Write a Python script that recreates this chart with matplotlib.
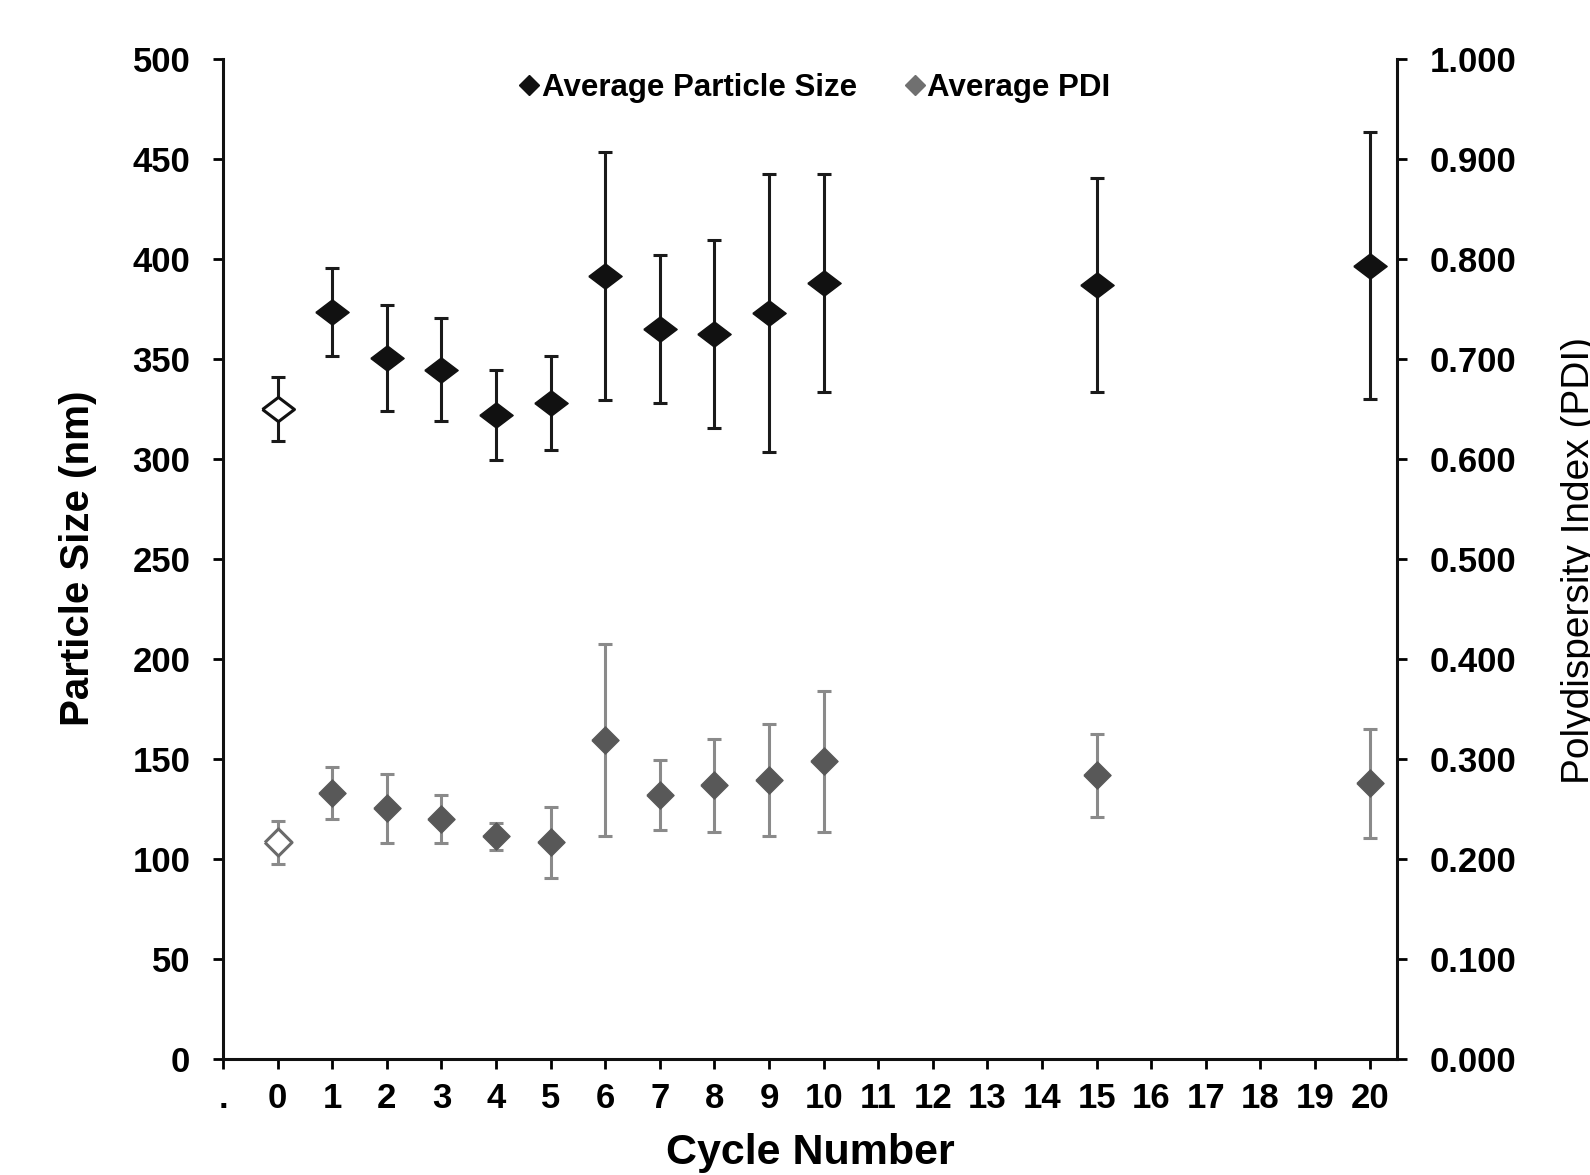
import matplotlib
matplotlib.use('Agg')
import matplotlib.pyplot as plt
from matplotlib.lines import Line2D
import numpy as np

# valores
cycles = [0, 1, 2, 3, 4, 5, 6, 7, 8, 9, 10, 15, 20]
size_mean = [325, 373.5, 350.8, 344.8, 322.3, 328.3, 391.7, 365.2, 362.6, 373.0, 388.3, 387.0, 396.8]
size_err = [16, 22, 26.5, 25.7, 22.5, 23.5, 62, 37, 47, 69.5, 54.5, 53.5, 66.8]
pdi_mean = [0.217, 0.266, 0.251, 0.240, 0.223, 0.217, 0.319, 0.264, 0.274, 0.279, 0.298, 0.284, 0.276]
pdi_err = [0.0215, 0.026, 0.0345, 0.024, 0.0135, 0.0355, 0.096, 0.035, 0.0465, 0.056, 0.0705, 0.0415, 0.0545]

tick_pos = list(range(-1, 21))
tick_labels = ['.'] + [str(i) for i in range(21)]

plt.rcParams['font.family'] = ['Liberation Sans', 'DejaVu Sans']
plt.rcParams['font.weight'] = 'bold'

black = '#111111'
gray_mk = '#585858'
gray_err = '#8a8a8a'

# losango mais largo do que alto para a serie de tamanho
wide_diamond = [(-1, 0), (0, 0.76), (1, 0), (0, -0.76), (-1, 0)]
sq_diamond = [(-1, 0), (0, 1), (1, 0), (0, -1), (-1, 0)]

fig = plt.figure(figsize=(15.9, 11.75), dpi=100)
ax = fig.add_axes([223 / 1590, 1 - 1059.3 / 1175, (1397 - 223) / 1590, 1000 / 1175])
ax2 = ax.twinx()

x = np.array(cycles)
sm = np.array(size_mean)
pm = np.array(pdi_mean)

# tamanho de particula
ax.errorbar(x, sm, yerr=size_err, fmt='none', ecolor='#1a1a1a', elinewidth=2.2,
            capsize=4.7, capthick=2.2, zorder=2)
ax.plot(x[1:], sm[1:], linestyle='none', marker=wide_diamond, markersize=24,
        markerfacecolor=black, markeredgecolor=black, markeredgewidth=1, zorder=3)
ax.plot(x[:1], sm[:1], linestyle='none', marker=wide_diamond, markersize=23,
        markerfacecolor='white', markeredgecolor=black, markeredgewidth=2.2, zorder=3)

# PDI
ax2.errorbar(x, pm, yerr=pdi_err, fmt='none', ecolor=gray_err, elinewidth=2.2,
             capsize=4.7, capthick=2.2, zorder=2)
ax2.plot(x[1:], pm[1:], linestyle='none', marker=sq_diamond, markersize=19.5,
         markerfacecolor=gray_mk, markeredgecolor=gray_mk, markeredgewidth=1, zorder=3)
ax2.plot(x[:1], pm[:1], linestyle='none', marker=sq_diamond, markersize=19.5,
         markerfacecolor='white', markeredgecolor='#6a6a6a', markeredgewidth=2.2, zorder=3)

ax.set_xlim(-1, 20.5)
ax.set_ylim(0, 500)
ax2.set_ylim(0, 1.0)
ax.set_xticks(tick_pos)
ax.set_xticklabels(tick_labels)
ax.set_yticks(np.arange(0, 501, 50))
ax2.set_yticks(np.arange(0, 1.01, 0.1))
ax2.set_yticklabels([f'{v:.3f}' for v in np.arange(0, 1.01, 0.1)])

for a in (ax, ax2):
    a.spines['top'].set_visible(False)
    for s in a.spines.values():
        s.set_linewidth(2.2)
        s.set_color('#111111')
ax.spines['right'].set_visible(False)
ax2.spines['left'].set_visible(False)
ax2.spines['bottom'].set_visible(False)

ax.tick_params(axis='x', direction='out', length=7.5, width=2, pad=9, labelsize=25)
ax.tick_params(axis='y', direction='out', length=7.5, width=2, pad=16, labelsize=25)
ax2.tick_params(axis='y', direction='out', length=7.5, width=2, pad=16, labelsize=25)

ax.set_xlabel('Cycle Number', fontsize=31, fontweight='bold', labelpad=13)
fig.text(78 / 1590, 1 - 558 / 1175, 'Particle Size (nm)', rotation=90, fontsize=29,
         fontweight='bold', ha='center', va='center')
fig.text(1561 / 1590, 1 - 560 / 1175, 'Polydispersity Index (PDI)', rotation=90,
         fontsize=28, fontweight='normal', ha='left', va='center')

handles = [
    Line2D([], [], linestyle='none', marker='D', markersize=10, color=black),
    Line2D([], [], linestyle='none', marker='D', markersize=10, color='#707070'),
]
ax.legend(handles, ['Average Particle Size', 'Average PDI'], loc='center',
          bbox_to_anchor=(0.505, 0.971), ncol=2, frameon=False, fontsize=22.5,
          handlelength=0.5, handletextpad=0.15, columnspacing=1.6)

plt.savefig('out.png', dpi=100)
